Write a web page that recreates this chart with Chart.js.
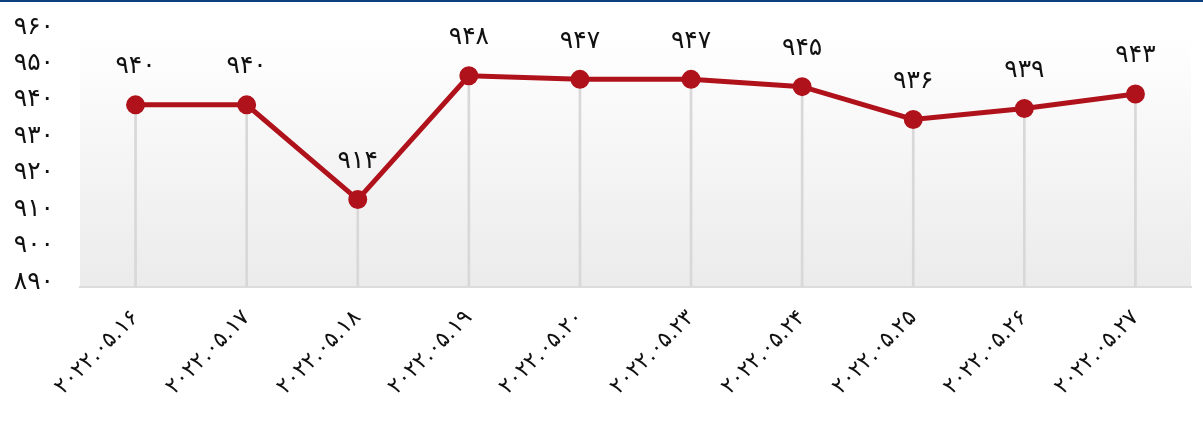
<!DOCTYPE html>
<html>
<head>
<meta charset="utf-8">
<script src="https://cdn.jsdelivr.net/npm/chart.js@4.4.0/dist/chart.umd.min.js"></script>
<style>
  html, body { margin: 0; padding: 0; background: #fff; }
  #wrap { width: 1203px; height: 424px; border-top: 2px solid #0d3f7d; }
</style>
</head>
<body>
<div id="wrap"><canvas id="priceChart" width="1203" height="424"></canvas></div>
<script>
// dates (x axis) and closing values
const dates = ['۲۰۲۲.۰۵.۱۶', '۲۰۲۲.۰۵.۱۷', '۲۰۲۲.۰۵.۱۸', '۲۰۲۲.۰۵.۱۹', '۲۰۲۲.۰۵.۲۰',
               '۲۰۲۲.۰۵.۲۳', '۲۰۲۲.۰۵.۲۴', '۲۰۲۲.۰۵.۲۵', '۲۰۲۲.۰۵.۲۶', '۲۰۲۲.۰۵.۲۷'];
const values = [940, 940, 914, 948, 947, 947, 945, 936, 939, 943];
const yMin = 890;
const yMax = 960;
const yStep = 10;

const faDigits = '۰۱۲۳۴۵۶۷۸۹';
function toFa(n) {
    return String(n).replace(/[0-9]/g, d => faDigits[d]);
}

const FONT = "'DejaVu Sans', sans-serif";

// gradient behind plot area
const bgPlugin = {
    id: 'bg',
    beforeDraw(chart) {
        const { ctx, chartArea: a } = chart;
        const g = ctx.createLinearGradient(0, a.top, 0, a.bottom);
        g.addColorStop(0, '#ffffff');
        g.addColorStop(1, '#ebebeb');
        ctx.save();
        ctx.fillStyle = g;
        ctx.fillRect(a.left, a.top, a.right - a.left, a.bottom - a.top);
        ctx.restore();
    }
};

// value labels above points
const labelPlugin = {
    id: 'valueLabels',
    afterDatasetsDraw(chart) {
        const { ctx } = chart;
        const meta = chart.getDatasetMeta(1);
        ctx.save();
        ctx.font = '25px ' + FONT;
        ctx.fillStyle = '#111';
        ctx.textAlign = 'center';
        ctx.textBaseline = 'middle';
        meta.data.forEach((pt, i) => {
            ctx.fillText(toFa(values[i]), pt.x, pt.y - 38);
        });
        ctx.restore();
    }
};

new Chart(document.getElementById('priceChart').getContext('2d'), {
    data: {
        labels: dates,
        datasets: [{
            type: 'bar',
            data: values,
            backgroundColor: '#d8d8d8',
            barThickness: 2,
            order: 2
        }, {
            type: 'line',
            data: values,
            borderColor: '#b0121b',
            backgroundColor: '#b0121b',
            borderWidth: 5,
            pointRadius: 7,
            pointHoverRadius: 7,
            tension: 0,
            fill: false,
            order: 1
        }]
    },
    options: {
        responsive: false,
        animation: false,
        layout: { padding: { top: 30, right: 10, left: 0, bottom: 0 } },
        plugins: {
            legend: { display: false },
            tooltip: { enabled: false }
        },
        scales: {
            x: {
                offset: true,
                grid: { display: false, drawTicks: false },
                border: { display: true, color: '#dcdcdc', width: 2 },
                ticks: {
                    color: '#111',
                    font: { family: FONT, size: 22 },
                    minRotation: 45,
                    maxRotation: 45,
                    padding: 18
                },
                afterFit(scale) {
                    scale.height = 139;
                    scale.paddingLeft = 0;
                    scale.paddingRight = 0;
                }
            },
            y: {
                min: yMin,
                max: yMax,
                grid: { display: false, drawTicks: false },
                border: { display: false },
                ticks: {
                    stepSize: yStep,
                    color: '#111',
                    font: { family: FONT, size: 25 },
                    padding: 26,
                    labelOffset: -5,
                    callback: v => toFa(v)
                },
                afterFit(scale) {
                    scale.width = 80;
                    scale.paddingTop = 0;
                    scale.paddingBottom = 0;
                }
            }
        }
    },
    plugins: [bgPlugin, labelPlugin]
});
</script>
</body>
</html>
